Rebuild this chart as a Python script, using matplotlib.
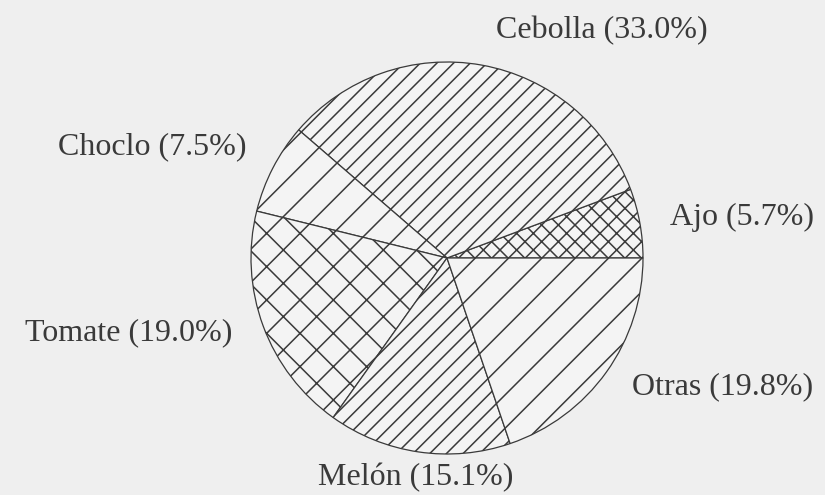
import matplotlib
matplotlib.use("Agg")
import matplotlib.pyplot as plt

# Crop shares (%)
crops = ["Ajo", "Cebolla", "Choclo", "Tomate", "Melón", "Otras"]
shares = [5.7, 33.0, 7.5, 19.0, 15.1, 19.8]
hatches = ["xx", "//", "/", "x", "//", "/"]

# Label anchor positions in pixels (x, y from top) and alignment
label_pos = {
    "Ajo": (670, 217, "left"),
    "Cebolla": (602, 31, "center"),
    "Choclo": (247, 147, "right"),
    "Tomate": (232, 333, "right"),
    "Melón": (416, 478, "center"),
    "Otras": (632, 387, "left"),
}

W, H = 825, 495
bg = "#efefef"
ink = "#3a3a3a"
plt.rcParams["hatch.linewidth"] = 1.1

fig = plt.figure(figsize=(W / 100, H / 100), dpi=100, facecolor=bg)
cx, cy, r = 447, 258, 196
ax = fig.add_axes([(cx - r) / W, (H - cy - r) / H, 2 * r / W, 2 * r / H])
ax.set_facecolor(bg)

wedges, _ = ax.pie(shares, startangle=0, counterclock=True, radius=1.0,
                   wedgeprops=dict(facecolor="#f4f4f4", edgecolor=ink, linewidth=0.9))
for w, h in zip(wedges, hatches):
    w.set_hatch(h)

ax.set_xlim(-1, 1)
ax.set_ylim(-1, 1)
ax.set_aspect("equal")
ax.axis("off")

for name, val in zip(crops, shares):
    px, py, ha = label_pos[name]
    fig.text(px / W, 1 - py / H, f"{name} ({val:.1f}%)", ha=ha, va="center",
             fontsize=23, family="Liberation Serif", color=ink)

fig.savefig("out.png", dpi=100, facecolor=bg)
